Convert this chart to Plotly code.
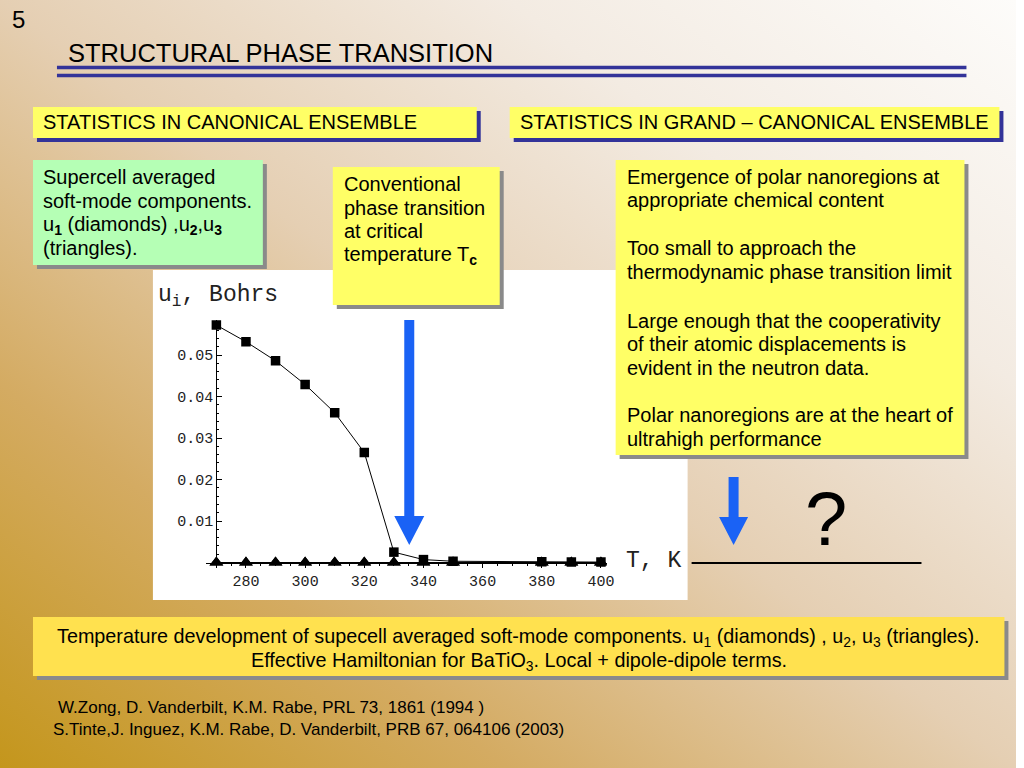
import base64
import plotly.graph_objects as go

W, H = 1024, 768
SX = 1.0073  # horizontal correction factor observed in the rendered page

# ---------------- data ----------------
temps_u1 = [270, 280, 290, 300, 310, 320, 330, 340, 350, 380, 390, 400]
u1_values = [0.0572, 0.0532, 0.0486, 0.0429, 0.0361, 0.0265, 0.0025, 0.0007, 0.0003, 0.0002, 0.0001, 0.0001]
temps_u23 = [270, 280, 290, 300, 310, 320, 330, 340, 350, 380, 390, 400]
u2_values = [0.0, 0.0, 0.0, 0.0, 0.0, 0.0, 0.0, 0.0, 0.0, 0.0, 0.0, 0.0]
u3_values = [0.0, 0.0, 0.0, 0.0, 0.0, 0.0, 0.0, 0.0, 0.0, 0.0, 0.0, 0.0]
x_tick_vals = [280, 300, 320, 340, 360, 380, 400]
x_tick_text = ["280", "300", "320", "340", "360", "380", "400"]
y_tick_vals = [0.01, 0.02, 0.03, 0.04, 0.05]
y_tick_text = ["0.01", "0.02", "0.03", "0.04", "0.05"]

SANS = "Liberation Sans, Arial, sans-serif"
MONO = "Liberation Mono, Courier New, monospace"


def X(p):
    return min(1.0, p * SX / W)


def Y(p):
    return 1 - p / H


shapes = []
annotations = []


def rect(x0, y0, x1, y1, color, layer="below"):
    shapes.append(dict(type="rect", xref="paper", yref="paper",
                       x0=X(x0), x1=X(x1), y0=Y(y1), y1=Y(y0),
                       fillcolor=color, line=dict(width=0), layer=layer))


def box(x0, y0, x1, y1, color, shadow, off=4):
    rect(x0 + off, y0 + off, x1 + off, y1 + off, shadow)
    rect(x0, y0, x1, y1, color)


def text(s, x, y, size, anchor="left", font=SANS, color="black"):
    annotations.append(dict(text=s, x=X(x), y=Y(y), xref="paper", yref="paper",
                            xanchor=anchor, yanchor="middle", showarrow=False,
                            font=dict(family=font, size=size, color=color)))


def arrow(cx, top, head_top, tip, sh, hh, color="#1a62f5"):
    pts = [(cx - sh, top), (cx + sh, top), (cx + sh, head_top), (cx + hh, head_top),
           (cx, tip), (cx - hh, head_top), (cx - sh, head_top)]
    path = "M " + " L ".join(f"{X(a):.5f},{Y(b):.5f}" for a, b in pts) + " Z"
    shapes.append(dict(type="path", xref="paper", yref="paper", path=path,
                       fillcolor=color, line=dict(width=0), layer="above"))


# background gradient
svg = ('<svg xmlns="http://www.w3.org/2000/svg" width="1024" height="768" '
       'viewBox="0 0 1024 768" preserveAspectRatio="none"><defs>'
       '<linearGradient id="g" x1="0" y1="1" x2="1" y2="0">'
       '<stop offset="0" stop-color="#c4961c"/>'
       '<stop offset="0.25" stop-color="#d4ab62"/>'
       '<stop offset="0.5" stop-color="#e5cfb3"/>'
       '<stop offset="0.75" stop-color="#f3ebe2"/>'
       '<stop offset="1" stop-color="#fdfcfa"/>'
       '</linearGradient></defs><rect width="1024" height="768" fill="url(#g)"/></svg>')
bg_src = "data:image/svg+xml;base64," + base64.b64encode(svg.encode()).decode()

# title rules
shapes.append(dict(type="line", xref="paper", yref="paper", x0=X(57), x1=X(967),
                   y0=Y(67.5), y1=Y(67.5), line=dict(color="#333399", width=3.5)))
shapes.append(dict(type="line", xref="paper", yref="paper", x0=X(57), x1=X(967),
                   y0=Y(75.5), y1=Y(75.5), line=dict(color="#333399", width=3.5)))

# white chart panel
rect(153, 270, 688, 600, "white")

# boxes
YEL = "#ffff66"
box(33, 107, 477, 138, YEL, "#333399")
box(510, 107, 1000, 138, YEL, "#333399")
box(33, 160, 263, 265, "#b5ffb5", "#8a8a8a")
box(333, 167, 500, 305, YEL, "#8a8a8a")
box(616, 160, 965, 455, YEL, "#8a8a8a")
box(33, 617, 1005, 676, "#ffe14f", "#8a8a8a")

# arrows and line
arrow(409.5, 320, 516, 545, 5, 15)
arrow(734, 477, 517, 545, 5, 14.5)
shapes.append(dict(type="line", xref="paper", yref="paper", x0=X(692), x1=X(922),
                   y0=Y(563), y1=Y(563), line=dict(color="black", width=2)))

# texts
text("5", 10, 20, 24)
text("STRUCTURAL PHASE TRANSITION", 66, 53, 25.5)
text("STATISTICS IN CANONICAL ENSEMBLE", 41, 122, 20)
text("STATISTICS IN GRAND \u2013 CANONICAL ENSEMBLE", 518, 122, 20)

for s, yy in [("Supercell averaged", 177), ("soft-mode components.", 201),
              ("u<sub><b>1</b></sub> (diamonds) ,u<sub><b>2</b></sub>,u<sub><b>3</b></sub>", 225),
              ("(triangles).", 248)]:
    text(s, 41, yy, 20)

for s, yy in [("Conventional", 184), ("phase transition", 208), ("at critical", 231),
              ("temperature T<sub><b>c</b></sub>", 255)]:
    text(s, 342, yy, 20)

for s, yy in [("Emergence of polar nanoregions at", 177), ("appropriate chemical content", 200),
              ("Too small to approach the", 248), ("thermodynamic phase transition limit", 272),
              ("Large enough that the cooperativity", 321), ("of their atomic displacements is", 344),
              ("evident in the neutron data.", 368),
              ("Polar nanoregions are at the heart of", 415), ("ultrahigh performance", 439)]:
    text(s, 625, yy, 20)

text("Temperature development of supecell averaged soft-mode components. u<sub>1</sub> (diamonds) , "
     "u<sub>2</sub>, u<sub>3</sub> (triangles).", 519, 637, 19.8, anchor="center")
text("Effective Hamiltonian for BaTiO<sub>3</sub>. Local + dipole-dipole terms.", 519, 661, 19.8,
     anchor="center")

text("W.Zong, D. Vanderbilt, K.M. Rabe, PRL 73, 1861 (1994 )", 56, 707, 17)
text("S.Tinte,J. Inguez, K.M. Rabe, D. Vanderbilt, PRB 67, 064106 (2003)", 51, 729, 17)

text("?", 826, 518, 76, anchor="center")

# chart labels
text("u<sub>i</sub>,\u00a0Bohrs", 156, 296, 23, font=MONO, color="#222")
text("T,\u00a0K", 624, 561, 23, font=MONO, color="#222")

# ---------------- axes geometry ----------------
x0_px, kx = 216.5, 2.96      # pixel of 270 K, px per K
y0_px, ky = 562.5, 4150.0    # pixel of u=0, px per Bohr
xd = (206, 607)
yd = (320, 568)
x_range = [270 + (xd[0] - x0_px) / kx, 270 + (xd[1] - x0_px) / kx]
y_range = [(y0_px - yd[1]) / ky, (y0_px - yd[0]) / ky]

fig = go.Figure()
fig.add_trace(go.Scatter(x=temps_u23, y=u2_values, mode="lines+markers", name="u2",
                         line=dict(color="black", width=1),
                         marker=dict(symbol="triangle-up", size=12, color="black")))
fig.add_trace(go.Scatter(x=temps_u23, y=u3_values, mode="lines+markers", name="u3",
                         line=dict(color="black", width=1),
                         marker=dict(symbol="triangle-up", size=12, color="black")))
fig.add_trace(go.Scatter(x=temps_u1, y=u1_values, mode="lines+markers", name="u1",
                         line=dict(color="black", width=1),
                         marker=dict(symbol="square", size=9.5, color="black")))

fig.update_layout(
    width=W, height=H, autosize=False,
    margin=dict(l=0, r=0, t=0, b=0),
    paper_bgcolor="white", plot_bgcolor="rgba(0,0,0,0)",
    showlegend=False,
    images=[dict(source=bg_src, xref="paper", yref="paper", x=0, y=1, sizex=1, sizey=1,
                 xanchor="left", yanchor="top", sizing="stretch", layer="below")],
    shapes=shapes,
    annotations=annotations,
    xaxis=dict(domain=[X(xd[0]), X(xd[1])], range=x_range, anchor="free",
               position=Y(y0_px), showgrid=False, zeroline=False,
               showline=True, linecolor="black", linewidth=1,
               tickvals=x_tick_vals, ticktext=x_tick_text,
               ticks="outside", ticklen=4, tickcolor="black",
               minor=dict(ticks="outside", ticklen=2, dtick=5, tick0=270, tickcolor="black"),
               tickfont=dict(family=MONO, size=15, color="#222")),
    yaxis=dict(domain=[Y(yd[1]), Y(yd[0])], range=y_range, anchor="free",
               position=X(x0_px), showgrid=False, zeroline=False,
               showline=True, linecolor="black", linewidth=1,
               tickvals=y_tick_vals, ticktext=y_tick_text,
               ticks="inside", ticklen=5, tickcolor="black",
               minor=dict(ticks="inside", ticklen=2, dtick=0.002, tick0=0, tickcolor="black"),
               tickfont=dict(family=MONO, size=15, color="#222")),
)

fig.write_html("out.html", config={"displayModeBar": False},
               post_script="document.body.style.margin='0';document.body.style.overflow='hidden';")
